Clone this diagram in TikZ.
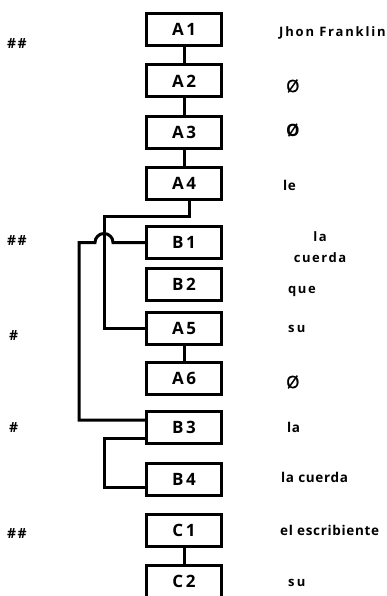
\documentclass[tikz,border=0pt]{standalone}
\usepackage{fontspec}
\setmainfont{Open Sans}
\newfontfamily\boxfont[LetterSpace=15]{Open Sans Bold}
\newfontfamily\labfont[LetterSpace=5]{Open Sans Bold}
\newfontfamily\labreg[FakeBold=1.2]{Open Sans}
\newfontfamily\hashfont[LetterSpace=10]{Open Sans Bold}
\begin{document}
\begin{tikzpicture}[x=1pt,y=-1pt,
  unit/.style={draw,line width=3pt,minimum width=75pt,minimum height=32pt,inner sep=0pt,
    font=\boxfont\fontsize{17}{18}\selectfont},
  lab/.style={anchor=west,inner sep=0pt,font=\labfont\fontsize{13.5}{14}\selectfont},
  hash/.style={anchor=west,inner sep=0pt,font=\hashfont\fontsize{14}{14}\selectfont},
  link/.style={line width=3pt}]
\useasboundingbox (0,0) rectangle (386,596);
\node[unit] (A1) at (184,29.5) {A1};
\node[unit] (A2) at (184,81) {A2};
\node[unit] (A3) at (184,132.5) {A3};
\node[unit] (A4) at (184,183) {A4};
\node[unit] (B1) at (184,242.5) {B1};
\node[unit] (B2) at (184,284.5) {B2};
\node[unit] (A5) at (184,328) {A5};
\node[unit] (A6) at (184,378) {A6};
\node[unit] (B3) at (184,427) {B3};
\node[unit] (B4) at (184,479.5) {B4};
\node[unit] (C1) at (184,530) {C1};
\node[unit] (C2) at (184,581) {C2};
% connectors
\draw[link] (A1) -- (A2);
\draw[link] (A2) -- (A3);
\draw[link] (A3) -- (A4);
\draw[link] (A5) -- (A6);
\draw[link] (C1) -- (C2);
\draw[link] ([xshift=5pt]A4.south) |- (104,216) |- (A5.west);
\draw[link] (B1.west) -- (113,242.5) arc (0:180:9pt) -- (79,242.5) |- ([yshift=7pt]B3.west);
\draw[link] ([yshift=-11pt]B3.west) -- (104,438) |- ([yshift=-8pt]B4.west);
% left marks
\node[hash] (h1) at (7,44) {\#\#};
\node[hash] (h2) at (7,241) {\#\#};
\node[hash] (h3) at (9,336) {\#};
\node[hash] (h4) at (9,428) {\#};
\node[hash] (h5) at (7,534) {\#\#};
% right labels
\node[lab,font=\labfont\fontsize{13}{14}\addfontfeature{LetterSpace=14}\selectfont] (r1) at (279,33) {Jhon Franklin};
\node[lab,font=\labreg\fontsize{17}{18}\selectfont] (r2) at (286,86) {Ø};
\node[lab,font=\labfont\fontsize{17}{18}\selectfont] (r3) at (286,130) {Ø};
\node[lab] (r4) at (283,185) {le};
\node[lab,anchor=center,align=center,font=\labfont\fontsize{13}{21}\addfontfeature{LetterSpace=12}\selectfont] (r5) at (320,247) {la\\cuerda};
\node[lab,font=\labfont\fontsize{13}{14}\addfontfeature{LetterSpace=12}\selectfont] (r6) at (288,291) {que};
\node[lab,font=\labfont\fontsize{13}{14}\addfontfeature{LetterSpace=18}\selectfont] (r7) at (288,329) {su};
\node[lab,font=\labreg\fontsize{17}{18}\selectfont] (r8) at (286,382) {Ø};
\node[lab] (r9) at (287,427) {la};
\node[lab] (r10) at (281,477) {la cuerda};
\node[lab] (r11) at (280,530) {el escribiente};
\node[lab,font=\labfont\fontsize{13}{14}\addfontfeature{LetterSpace=18}\selectfont] (r12) at (288,583) {su};
\end{tikzpicture}
\end{document}
